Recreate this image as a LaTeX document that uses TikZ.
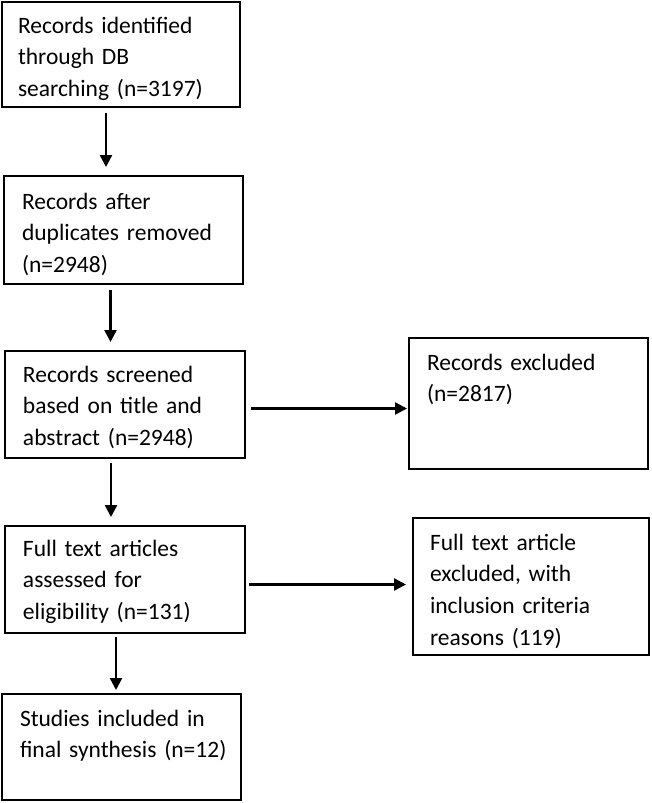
\documentclass[tikz,border=0pt]{standalone}
\usepackage{fontspec}
\setmainfont{Carlito}
\usetikzlibrary{arrows.meta,calc}
\tikzset{
  box/.style={draw=black, line width=2.6pt, fill=none, inner sep=0pt, outer sep=0pt, anchor=north west},
  txt/.style={anchor=base west, inner sep=0pt, outer sep=0pt, text width=230pt, align=left,
              font=\fontsize{23.5pt}{31.7pt}\selectfont},
  arr/.style={draw=black, line width=2.4pt, -{Triangle[length=12pt,width=12pt]}}
}
\begin{document}
\begin{tikzpicture}[x=1pt,y=-1pt]
\useasboundingbox (0,0) rectangle (652,803);
% boxes
\node[box, minimum width=238pt, minimum height=105pt] (b1) at (2,2) {};
\node[box, minimum width=239pt, minimum height=108pt] (b2) at (4,176) {};
\node[box, minimum width=240pt, minimum height=107pt] (b3) at (5,351) {};
\node[box, minimum width=240pt, minimum height=107pt] (b4) at (5,526) {};
\node[box, minimum width=239pt, minimum height=106pt] (b5) at (2,694) {};
\node[box, minimum width=239pt, minimum height=131pt] (bA) at (409,338) {};
\node[box, minimum width=236pt, minimum height=137pt] (bB) at (413,518) {};
% texts
\node[txt] (t1) at ($(b1.north west)+(16,31)$) {Records identified\\through DB\\searching (n=3197)};
\node[txt] (t2) at ($(b2.north west)+(18,33)$) {Records after\\duplicates removed\\(n=2948)};
\node[txt] (t3) at ($(b3.north west)+(18,31)$) {Records screened\\based on title and\\abstract (n=2948)};
\node[txt] (t4) at ($(b4.north west)+(18,30)$) {Full text articles\\assessed for\\eligibility (n=131)};
\node[txt] (t5) at ($(b5.north west)+(18,32)$) {Studies included in\\final synthesis (n=12)};
\node[txt] (tA) at ($(bA.north west)+(18,32)$) {Records excluded\\(n=2817)};
\node[txt] (tB) at ($(bB.north west)+(17,32)$) {Full text article\\excluded, with\\inclusion criteria\\reasons (119)};
% connectors
\draw[arr] ($(b1.south)+(-15,6)$) -- ($(b1.south |- b2.north)+(-15,-9)$);
\draw[arr] ($(b2.south)+(-13,6)$) -- ($(b2.south |- b3.north)+(-13,-9)$);
\draw[arr] ($(b3.south)+(-14,5)$) -- ($(b3.south |- b4.north)+(-14,-9)$);
\draw[arr] ($(b4.south)+(-9,4)$) -- ($(b4.south |- b5.north)+(-9,-4)$);
\draw[arr] ($(b3.east)+(6,4)$) -- ($(b3.east -| bA.west)+(-2,4)$);
\draw[arr] ($(b4.east)+(4,5)$) -- ($(b4.east -| bB.west)+(-7,5)$);
\end{tikzpicture}
\end{document}
